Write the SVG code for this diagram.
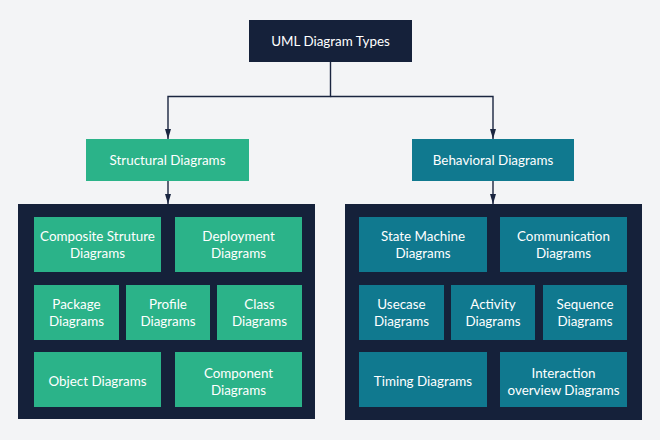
<svg xmlns="http://www.w3.org/2000/svg" width="660" height="440" viewBox="0 0 660 440">
<defs>
<marker id="ah" viewBox="0 0 10 6" refX="10" refY="3" markerWidth="10" markerHeight="6" markerUnits="userSpaceOnUse" orient="auto">
<path d="M0,0 L10,3 L0,6 Z" fill="#1a2540"/>
</marker>
<style>
.dark{fill:#15213a}
.g{fill:#2bb389}
.t{fill:#10798f}
text{font-family:Lato,"Open Sans","Noto Sans",sans-serif;font-size:13.4px;fill:#ffffff;text-anchor:middle}
.c{fill:none;stroke:#1a2540;stroke-width:1.4}
</style>
</defs>
<rect width="660" height="440" fill="#f3f4f6"/>
<g id="connectors">
<path class="c" d="M330.5,62 V96.5 H168 V139" marker-end="url(#ah)"/>
<path class="c" d="M330.5,96.5 H493 V139" marker-end="url(#ah)"/>
<path class="c" d="M168,181 V204" marker-end="url(#ah)"/>
<path class="c" d="M493,181 V204" marker-end="url(#ah)"/>
</g>
<g id="root"><rect class="dark" x="249" y="20" width="163" height="42"/><text x="330.5" y="46">UML Diagram Types</text></g>
<g id="structural"><rect class="g" x="86" y="139" width="163" height="42"/><text x="167.5" y="165">Structural Diagrams</text></g>
<g id="behavioral"><rect class="t" x="412" y="139" width="162" height="42"/><text x="493" y="165">Behavioral Diagrams</text></g>
<g id="structural-group"><rect class="dark" x="18" y="204" width="297" height="215"/></g>
<g id="behavioral-group"><rect class="dark" x="345" y="204" width="297" height="216"/></g>
<g id="composite"><rect class="g" x="34" y="217" width="127" height="55"/><text x="97.5" y="241">Composite Struture</text><text x="97.5" y="258">Diagrams</text></g>
<g id="deployment"><rect class="g" x="175" y="217" width="127" height="55"/><text x="238.5" y="241">Deployment</text><text x="238.5" y="258">Diagrams</text></g>
<g id="package"><rect class="g" x="34" y="285" width="85" height="55"/><text x="76.5" y="309">Package</text><text x="76.5" y="326">Diagrams</text></g>
<g id="profile"><rect class="g" x="126" y="285" width="84" height="55"/><text x="168" y="309">Profile</text><text x="168" y="326">Diagrams</text></g>
<g id="class"><rect class="g" x="217" y="285" width="85" height="55"/><text x="259.5" y="309">Class</text><text x="259.5" y="326">Diagrams</text></g>
<g id="object"><rect class="g" x="34" y="352" width="127" height="55"/><text x="97.5" y="386">Object Diagrams</text></g>
<g id="component"><rect class="g" x="175" y="352" width="127" height="55"/><text x="238.5" y="378">Component</text><text x="238.5" y="395">Diagrams</text></g>
<g id="statemachine"><rect class="t" x="359" y="217" width="128" height="55"/><text x="423" y="241">State Machine</text><text x="423" y="258">Diagrams</text></g>
<g id="communication"><rect class="t" x="500" y="217" width="127" height="55"/><text x="563.5" y="241">Communication</text><text x="563.5" y="258">Diagrams</text></g>
<g id="usecase"><rect class="t" x="359" y="285" width="85" height="55"/><text x="401.5" y="309">Usecase</text><text x="401.5" y="326">Diagrams</text></g>
<g id="activity"><rect class="t" x="451" y="285" width="84" height="55"/><text x="493" y="309">Activity</text><text x="493" y="326">Diagrams</text></g>
<g id="sequence"><rect class="t" x="543" y="285" width="84" height="55"/><text x="585" y="309">Sequence</text><text x="585" y="326">Diagrams</text></g>
<g id="timing"><rect class="t" x="359" y="352" width="128" height="55"/><text x="423" y="386">Timing Diagrams</text></g>
<g id="interaction"><rect class="t" x="500" y="352" width="127" height="55"/><text x="563.5" y="378">Interaction</text><text x="563.5" y="395">overview Diagrams</text></g>
</svg>
